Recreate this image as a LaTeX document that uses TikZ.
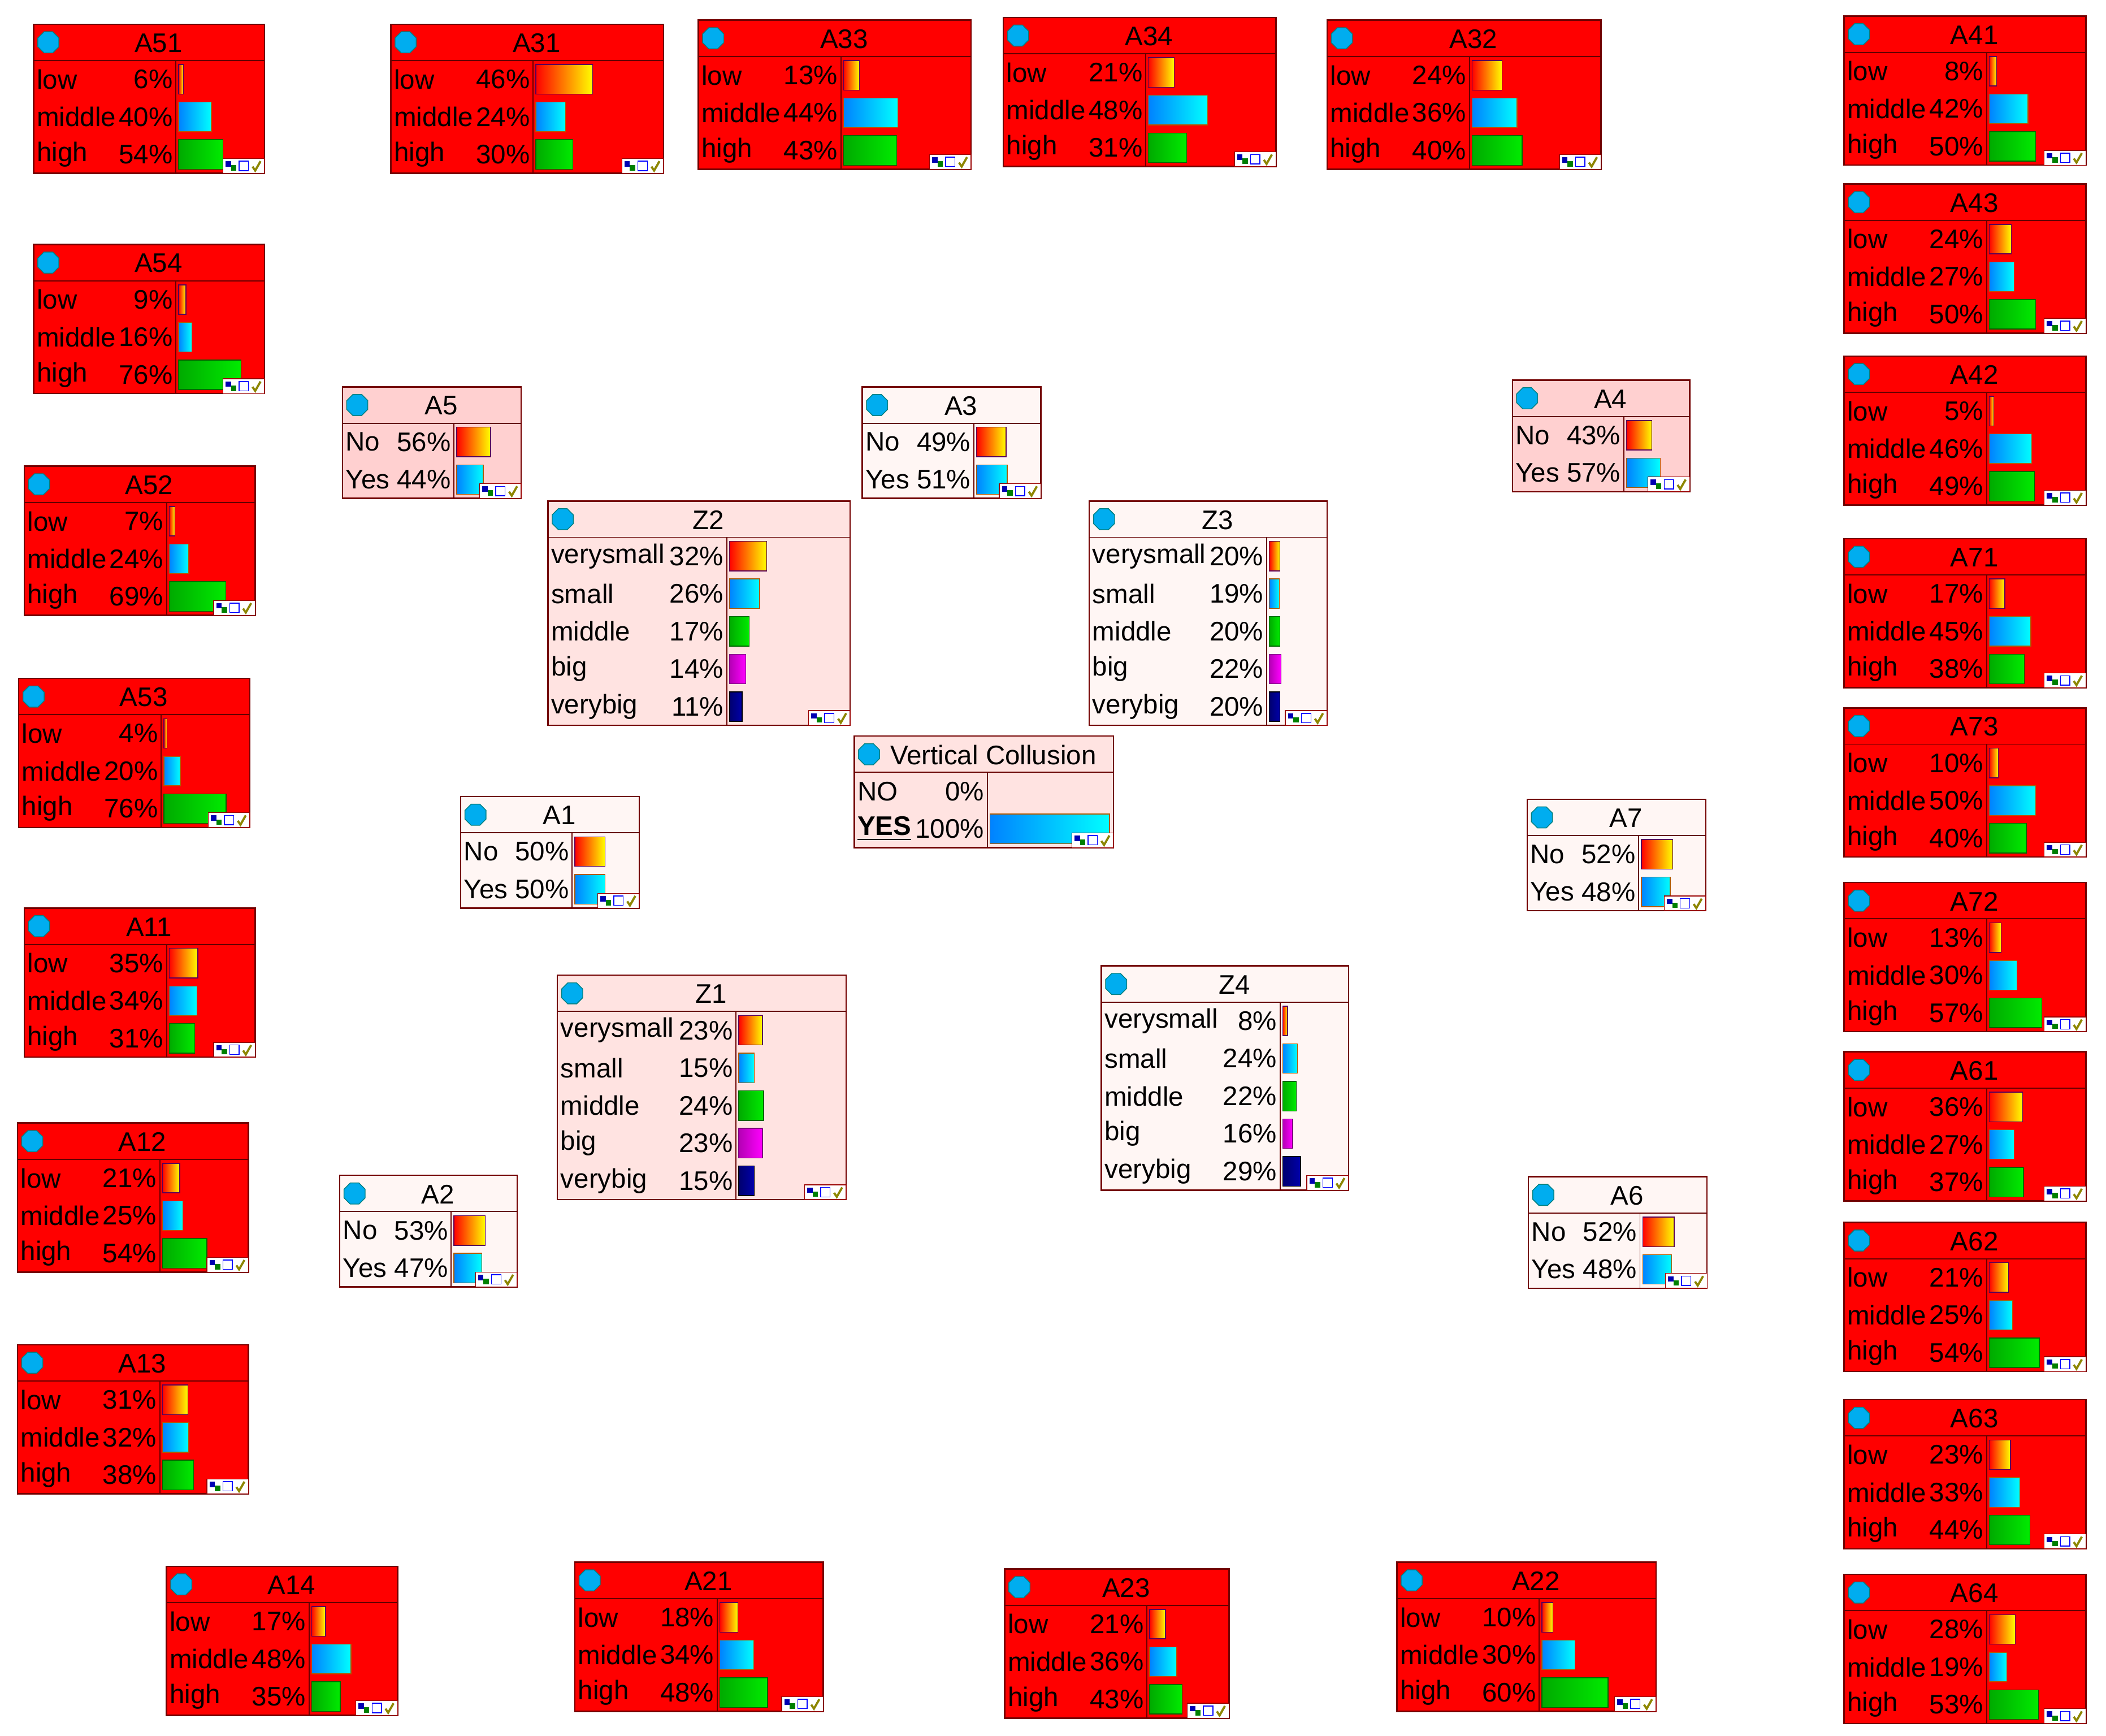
\documentclass[tikz,border=0pt]{standalone}
\usepackage{fontspec}
\setmainfont{Liberation Sans}
\usetikzlibrary{arrows.meta,shapes.geometric}
\definecolor{eb}{HTML}{134E8C}
\definecolor{pinkA}{HTML}{FFD0D0}
\definecolor{pinkB}{HTML}{FFE3E1}
\definecolor{pinkC}{HTML}{FFF6F4}
\pgfdeclarelayer{edges}
\pgfsetlayers{edges,main}
\tikzset{
 box/.style={draw=red!45!black,line width=0.5pt,inner sep=0pt,outer sep=0pt},
 redbox/.style={fill=red},
 sep/.style={draw=red!40!black,line width=0.4pt},
 ico/.style={regular polygon,regular polygon sides=8,fill=cyan,draw=teal,line width=0.3pt,minimum size=8.5pt,inner sep=0pt},
 ttl/.style={font=\fontsize{10}{12}\selectfont,inner sep=0pt},
 lbl/.style={font=\fontsize{10}{12}\selectfont,inner sep=0pt},
 bar1/.style={left color=red,right color=yellow,draw=violet!70!black,line width=0.3pt},
 bar2/.style={left color={rgb,255:red,0;green,130;blue,255},right color=cyan,draw=orange!70!black,line width=0.3pt},
 bar3/.style={left color={rgb,255:red,0;green,170;blue,0},right color={rgb,255:red,0;green,235;blue,0},draw=green!40!black,line width=0.3pt},
 bar4/.style={left color={rgb,255:red,180;green,0;blue,180},right color=magenta,draw=violet,line width=0.3pt},
 bar5/.style={left color={rgb,255:red,0;green,0;blue,110},right color={rgb,255:red,0;green,0;blue,170},draw=black,line width=0.3pt},
 e/.style={draw=eb,line width=0.7pt,-{Triangle[length=7pt,width=5pt]}},
 em/.style={draw=eb,line width=1.3pt,-{Triangle[length=8pt,width=6pt]}},
 et/.style={draw=eb,line width=2.3pt,-{Triangle[length=9pt,width=8pt]}},
 ex/.style={draw=eb,line width=4.2pt,-{Triangle[length=11pt,width=10pt]}},
}
% #1 name #2 title #3 x #4 y #5 w #6 fill #7 barstart #8 rows #9 n
\newcommand\bn[9]{%
 \pgfmathsetmacro\HH{27+28*#9}
 \node[box,#6,minimum width=#5*0.5pt,minimum height=\HH*0.5pt,anchor=north west] (#1) at (#3,#4) {};
 \draw[sep] (#3,#4+27) -- ++(#5,0);
 \draw[sep] (#3+#7-2,#4+27) -- (#3+#7-2,#4+\HH);
 \node[ico] at (#3+11,#4+13.5) {};
 \node[ttl] at (#3+#5/2+7,#4+14) {#2};
 \foreach \l/\p [count=\i] in {#8}{
   \pgfmathsetmacro\yy{#4+27+28*\i-14}
   \node[lbl,anchor=west] at (#3+2,\yy) {\l};
   \node[lbl,anchor=east] at (#3+#7-4,\yy) {\p\%};
   \pgfmathsetmacro\bw{\p*(#5-#7-3)/100}
   \ifdim\p pt>0pt \shade[bar\i] (#3+#7,\yy-11) rectangle ++(\bw,22);\fi
 }
 \draw[fill=white,draw=red!60!black,line width=0.3pt] (#3+#5-31,#4+\HH-11) rectangle (#3+#5,#4+\HH);
 \fill[blue!70!black] (#3+#5-29,#4+\HH-9) rectangle ++(4,4);
 \fill[green!50!black] (#3+#5-25,#4+\HH-6) rectangle ++(4,4);
 \draw[blue,line width=0.3pt] (#3+#5-19,#4+\HH-9) rectangle ++(7,7);
 \draw[olive,line width=0.8pt] (#3+#5-9,#4+\HH-5) -- ++(2,3) -- ++(4,-7);
}
\newcommand\leaf[7]{\bn{#1}{#1}{#2}{#3}{#4}{redbox}{108}{low/#5,middle/#6,high/#7}{3}}
\newcommand\ptwo[7]{\bn{#1}{#1}{#2}{#3}{#4}{fill=#5}{85}{No/#6,Yes/#7}{2}}
\newcommand\pfive[9]{\bn{#1}{#1}{#2}{#3}{#4}{fill=pinkB}{135}{verysmall/#5,small/#6,middle/#7,big/#8,verybig/#9}{5}}
\begin{document}
\begin{tikzpicture}[x=0.5pt,y=-0.5pt]
\useasboundingbox[fill=white] (0,0) rectangle (1568,1292);
% leaves
\leaf{A51}{25}{18}{172}{6}{40}{54}
\leaf{A31}{291}{18}{203}{46}{24}{30}
\leaf{A33}{520}{15}{203}{13}{44}{43}
\leaf{A34}{747}{13}{203}{21}{48}{31}
\leaf{A32}{988}{15}{204}{24}{36}{40}
\leaf{A41}{1373}{12}{180}{8}{42}{50}
\leaf{A54}{25}{182}{172}{9}{16}{76}
\leaf{A43}{1373}{137}{180}{24}{27}{50}
\leaf{A42}{1373}{265}{180}{5}{46}{49}
\leaf{A52}{18}{347}{172}{7}{24}{69}
\leaf{A71}{1373}{401}{180}{17}{45}{38}
\leaf{A53}{14}{505}{172}{4}{20}{76}
\leaf{A73}{1373}{527}{180}{10}{50}{40}
\leaf{A11}{18}{676}{172}{35}{34}{31}
\leaf{A72}{1373}{657}{180}{13}{30}{57}
\leaf{A61}{1373}{783}{180}{36}{27}{37}
\leaf{A12}{13}{836}{172}{21}{25}{54}
\leaf{A62}{1373}{910}{180}{21}{25}{54}
\leaf{A13}{13}{1001}{172}{31}{32}{38}
\leaf{A63}{1373}{1042}{180}{23}{33}{44}
\leaf{A64}{1373}{1172}{180}{28}{19}{53}
\leaf{A14}{124}{1166}{172}{17}{48}{35}
\leaf{A21}{428}{1163}{185}{18}{34}{48}
\leaf{A23}{748}{1168}{167}{21}{36}{43}
\leaf{A22}{1040}{1163}{193}{10}{30}{60}
% pink nodes
\ptwo{A5}{255}{288}{133}{pinkA}{56}{44}
\ptwo{A3}{642}{288}{133}{pinkC}{49}{51}
\ptwo{A4}{1126}{283}{132}{pinkA}{43}{57}
\ptwo{A1}{343}{593}{133}{pinkC}{50}{50}
\ptwo{A7}{1137}{595}{133}{pinkC}{52}{48}
\ptwo{A2}{253}{875}{132}{pinkC}{53}{47}
\ptwo{A6}{1138}{876}{133}{pinkC}{52}{48}
\pfive{Z2}{408}{373}{225}{32}{26}{17}{14}{11}
\bn{Z3}{Z3}{811}{373}{177}{fill=pinkC}{134}{verysmall/20,small/19,middle/20,big/22,verybig/20}{5}
\pfive{Z1}{415}{726}{215}{23}{15}{24}{23}{15}
\bn{Z4}{Z4}{820}{719}{184}{fill=pinkC}{135}{verysmall/8,small/24,middle/22,big/16,verybig/29}{5}
\bn{VC}{Vertical Collusion}{636}{548}{193}{fill=pinkB}{101}{NO/0,{\underline{\textbf{YES}}}/100}{2}
\begin{pgfonlayer}{edges}
% leaf edges
\draw[e] (A51) -- (A5); \draw[e] (A54) -- (A5);
\draw[em] (A52) -- (A5); \draw[em] (A53) -- (A5);
\draw[em] (A31) -- (A3); \draw[e] (A33) -- (A3); \draw[e] (A34) -- (A3); \draw[e] (A32) -- (A3);
\draw[e] (A41) -- (A4); \draw[ex] (A43) -- (A4); \draw[e] (A42) -- (A4);
\draw[e] (A71) -- (A7); \draw[e] (A73) -- (A7); \draw[e] (A72) -- (A7);
\draw[e] (A61) -- (A6); \draw[e] (A62) -- (A6); \draw[e] (A63) -- (A6); \draw[e] (A64) -- (A6);
\draw[e] (A11) -- (A1); \draw[em] (A12) -- (A1); \draw[em] (A13) -- (A1);
\draw[e] (A14) -- (A2); \draw[em] (A21) -- (A2); \draw[e] (A23) -- (A2); \draw[e] (A22) -- (A2);
% internal edges
\draw[e] (A3.west) -- (A3.west -| A5.east);
\draw[e] (A4.west) -- (A4.west -| A3.east);
\draw[em] (A5.south east) -- (Z2.north west);
\draw[e] ([yshift=-7.5pt]A5.east) -- ([yshift=11pt]Z3.west);
\draw[e] (A5.south) -- (A5.south |- A2.north);
\draw[em] ([xshift=9.5pt]A5.south) -- ([xshift=10.5pt]A1.north);
\draw[et] ([xshift=15.5pt]A1.south) -- ([xshift=-28.75pt]Z1.north);
\draw[em] ([xshift=25.5pt]A1.south) -- ([xshift=-18.75pt]Z1.north);
\draw[em] ([xshift=13pt]A1.north) -- ([xshift=-20pt]Z2.south);
\draw[em] ([xshift=28pt]A1.north) -- ([xshift=-10pt]Z2.south);
\draw[et] (Z1.north) -- (Z1.north |- Z2.south);
\draw[e] ([yshift=-6.5pt]Z3.west) -- ([yshift=15pt]A1.east);
\draw[e] ([yshift=-16.5pt]Z3.west) -- ([yshift=12pt]A1.east);
\draw[e] (A1.east) -- (A1.east -| A7.west);
\draw[e] ([yshift=-12pt]A1.east) -- ([yshift=16.5pt]Z4.west);
\draw[e] ([yshift=-16pt]A1.east) -- ([yshift=10.5pt]Z4.west);
\draw[em] ([xshift=12pt]A2.north) -- ([xshift=-15.5pt]A1.south);
\draw[em] ([xshift=-22pt]A1.south) -- ([xshift=5pt]A2.north);
\draw[em] ([xshift=-5pt]A1.south) -- ([xshift=10pt]A2.north);
\draw[em] ([xshift=15pt]Z2.south) -- ([xshift=17pt]A2.north);
\draw[ex] ([yshift=3pt]Z1.east) -- ([yshift=3pt]Z4.west);
\draw[em] ([yshift=-8pt]A7.west) -- ([yshift=17pt]Z1.east);
\draw[e] ([yshift=10pt]A2.east) -- ([yshift=-8pt]Z4.west);
\draw[et] ([xshift=-31pt]A4.south) -- ([yshift=38pt]Z1.east);
\draw[et] ([yshift=9.5pt]A7.west) -- ([yshift=-15pt]Z2.east);
\draw[e] (Z2.east) -- (Z2.east -| Z3.west);
\draw[e] (A3.south east) -- ([yshift=-11pt]Z3.north west);
\draw[em] ([xshift=-6.5pt]A3.south) -- ([xshift=16pt]Z1.north);
\draw[em] ([xshift=-11pt]Z1.north) -- ([xshift=-21.5pt]A3.south);
\draw[e] ([xshift=10pt]A3.south) -- ([xshift=-20pt]Z4.north);
\draw[e] ([xshift=2pt]Z3.south) -- ([xshift=-2pt]Z4.north);
\draw[e] ([xshift=-10pt]A4.south) -- ([xshift=26pt]Z4.north);
\draw[e] ([yshift=-8pt]A4.west) -- ([yshift=28pt]Z3.east);
\draw[e] ([yshift=-12pt]A4.west) -- ([yshift=23.5pt]Z3.east);
\draw[e] (A4.south) -- (A7.north);
\draw[e] (A7.north west) -- ([yshift=-26pt]Z3.east);
\draw[e] ([xshift=6pt]A7.south west) -- ([yshift=29pt]Z4.east);
\draw[e] (A6.north) -- (A6.north |- A7.south);
\draw[e] ([xshift=-14pt]A6.north) -- ([xshift=27.75pt]Z3.south);
\draw[e] ([yshift=-15pt]Z4.east) -- ([yshift=14pt]A6.west);
\draw[e] ([yshift=12pt]A6.west) -- ([yshift=-18pt]Z4.east);
\draw[e] (A2.east) -- (A2.east -| A6.west);
\draw[e] ([xshift=18pt]Z1.north) -- ([xshift=-24pt]VC.south);
\draw[e] ([xshift=34pt]Z1.north) -- ([yshift=-16pt]Z3.west);
\draw[e] ([xshift=10pt]Z4.north west) -- ([xshift=20pt]VC.south);
\draw[e] ([xshift=-16pt]VC.south) -- ([yshift=-3pt]Z4.north west);
\draw[e] ([xshift=40pt]Z2.south) -- ([yshift=-8pt]Z4.north west);
\end{pgfonlayer}
\end{tikzpicture}
\end{document}
